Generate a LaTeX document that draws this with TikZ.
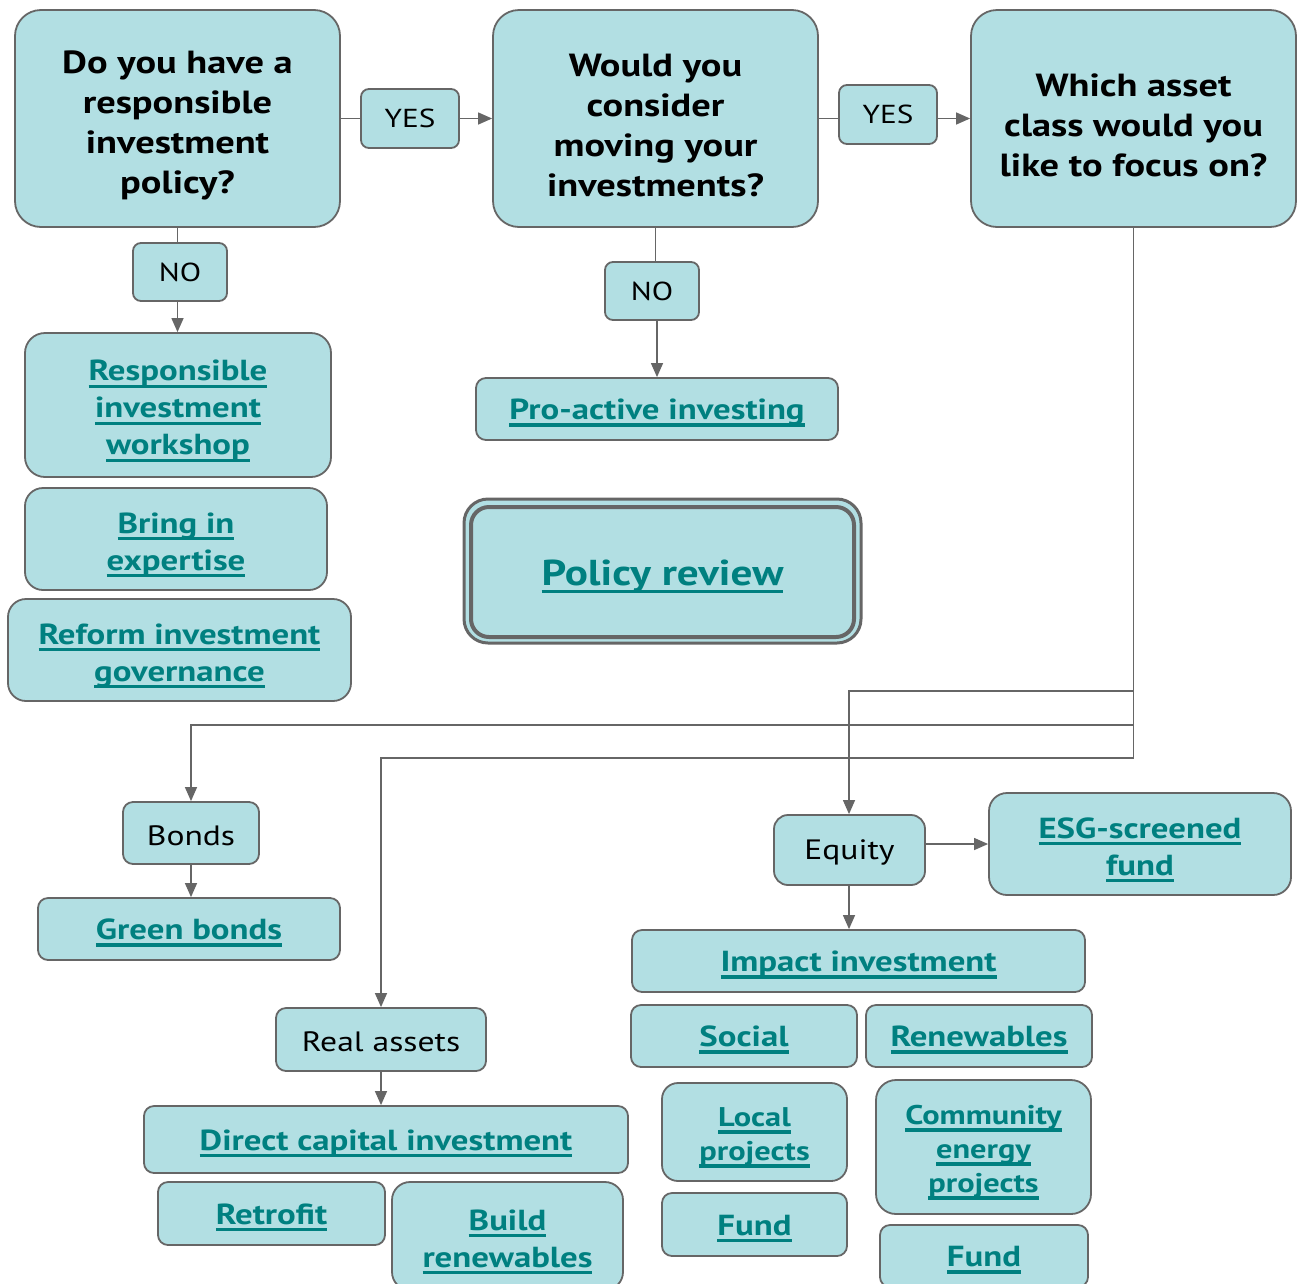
\documentclass[tikz,border=0pt]{standalone}
\usepackage{fontspec}
\setmainfont{PT Sans}[FakeStretch=1.2]
\usetikzlibrary{arrows.meta}
\definecolor{boxfill}{RGB}{178,223,227}
\definecolor{boxline}{RGB}{102,102,102}
\definecolor{linkcol}{RGB}{0,128,128}
\newcommand\lnk[1]{\setbox0\hbox{#1}\rlap{\rule[-6.8pt]{\wd0}{3.2pt}}\box0}
\newcommand\fl{\rule{0pt}{1.13em}}
\tikzset{
  box/.style={draw=boxline, line width=1.8pt, fill=boxfill, rounded corners=10pt, align=center, inner sep=0pt},
  one/.style={execute at begin node={\rule{0pt}{0.98em}}},
  bigbox/.style={box, rounded corners=26pt},
  qtext/.style={font=\fontsize{32}{40}\selectfont\bfseries},
  ltext/.style={text=linkcol, font=\fontsize{29}{37}\selectfont\bfseries},
  stext/.style={text=linkcol, font=\fontsize{27}{34}\selectfont\bfseries},
  ptext/.style={font=\fontsize{28}{34}\selectfont, execute at begin node={\rule{0pt}{0.9em}}},
  lbl/.style={font=\fontsize{26}{30}\selectfont},
  conn/.style={draw=boxline, line width=1.3pt},
  arr/.style={conn, -{Triangle[length=14pt,width=12pt]}},
}
\begin{document}
\begin{tikzpicture}[x=1pt,y=-1pt]
\useasboundingbox (0,0) rectangle (1297,1283);
\clip (0,0) rectangle (1297,1283);
% questions
\node[bigbox, qtext, minimum width=325, minimum height=217] (q1) at (177.5,118.5) {\fl Do you have a\\responsible\\investment\\policy?};
\node[bigbox, qtext, minimum width=325, minimum height=217] (q2) at (655.5,118.5) {\fl Would you\\consider\\moving your\\investments?};
\node[bigbox, qtext, minimum width=325, minimum height=217] (q3) at (1133.5,118.5) {\fl Which asset\\class would you\\like to focus on?};
% yes / no
\node[box, lbl, rounded corners=8pt, minimum width=98, minimum height=59] (yes1) at (410,118.5) {YES};
\node[box, lbl, rounded corners=8pt, minimum width=98, minimum height=59] (yes2) at (888,114.5) {YES};
\node[box, lbl, rounded corners=8pt, minimum width=94, minimum height=58] (no1) at (180,272) {NO};
\node[box, lbl, rounded corners=8pt, minimum width=94, minimum height=58] (no2) at (652,291) {NO};
% left column
\node[box, ltext, rounded corners=20pt, minimum width=306, minimum height=144] (riw) at (178,405) {\fl\lnk{Responsible}\\\lnk{investment}\\\lnk{workshop}};
\node[box, ltext, rounded corners=18pt, minimum width=302, minimum height=102] (bie) at (176,539) {\fl\lnk{Bring in}\\\lnk{expertise}};
\node[box, ltext, rounded corners=18pt, minimum width=343, minimum height=102] (rig) at (179.5,650) {\fl\lnk{Reform investment}\\\lnk{governance}};
% middle
\node[box, ltext, one, minimum width=362, minimum height=62] (pa) at (657,409) {\lnk{Pro-active investing}};
\node[box, line width=3pt, rounded corners=24pt, minimum width=397, minimum height=144] (prout) at (662.5,571) {};
\node[box, one, line width=4pt, rounded corners=18pt, minimum width=383, minimum height=130, text=linkcol, font=\fontsize{36}{40}\selectfont\bfseries] (pr) at (662.5,572) {\lnk{Policy review}};
% asset classes
\node[box, ptext, minimum width=136, minimum height=62] (bonds) at (191,833) {Bonds};
\node[box, ltext, one, minimum width=302, minimum height=62] (gb) at (189,929) {\lnk{Green bonds}};
\node[box, ptext, rounded corners=14pt, minimum width=151, minimum height=70] (eq) at (849.5,850) {Equity};
\node[box, ltext, rounded corners=18pt, minimum width=302, minimum height=102] (esg) at (1140,844) {\fl\lnk{ESG-screened}\\\lnk{fund}};
\node[box, ltext, one, minimum width=453, minimum height=62] (imp) at (858.5,961) {\lnk{Impact investment}};
\node[box, ltext, one, minimum width=226, minimum height=62] (soc) at (744,1036) {\lnk{Social}};
\node[box, ltext, one, minimum width=226, minimum height=62] (ren) at (979,1036) {\lnk{Renewables}};
\node[box, stext, rounded corners=16pt, minimum width=185, minimum height=98] (loc) at (754.5,1132) {\fl\lnk{Local}\\\lnk{projects}};
\node[box, stext, rounded corners=20pt, minimum width=215, minimum height=134] (cep) at (983.5,1147) {\fl\lnk{Community}\\\lnk{energy}\\\lnk{projects}};
\node[box, ltext, one, minimum width=185, minimum height=63] (f1) at (754.5,1224.5) {\lnk{Fund}};
\node[box, ltext, one, minimum width=208, minimum height=62] (f2) at (984,1256) {\lnk{Fund}};
\node[box, ptext, minimum width=210, minimum height=63] (real) at (381,1039.5) {Real assets};
\node[box, ltext, one, minimum width=484, minimum height=67] (dci) at (386,1139.5) {\lnk{Direct capital investment}};
\node[box, ltext, one, minimum width=227, minimum height=63] (ret) at (271.5,1213.5) {\lnk{Retrofit}};
\node[box, ltext, rounded corners=18pt, minimum width=231, minimum height=108] (bld) at (507.5,1236) {\fl\lnk{Build}\\\lnk{renewables}};
% connectors
\draw[conn] (q1.east) -- (yes1.west);
\draw[arr] (yes1.east) -- (q2.west);
\draw[conn] (q2.east) -- (yes2.west |- q2.east);
\draw[arr] (yes2.east |- q3.west) -- (q3.west);
\draw[conn] (q1.south) -- (q1.south |- no1.north);
\draw[arr] (q1.south |- no1.south) -- (riw.north -| q1.south);
\draw[conn] (q2.south) -- (q2.south |- no2.north);
\draw[arr] (no2.south -| pa.north) -- (pa.north);
\coordinate (j1) at (849,691);
\coordinate (j2) at (191,725);
\coordinate (j3) at (381,758);
\draw[arr] (q3.south) |- (j1) -- (eq.north -| j1);
\draw[arr] (q3.south) |- (j2) -- (bonds.north);
\draw[arr] (q3.south) |- (j3) -- (real.north);
\draw[arr] (bonds.south) -- (gb.north -| bonds.south);
\draw[arr] (eq.east |- esg.west) -- (esg.west);
\draw[arr] (eq.south -| j1) -- (imp.north -| j1);
\draw[arr] (real.south) -- (dci.north -| real.south);
\end{tikzpicture}
\end{document}
